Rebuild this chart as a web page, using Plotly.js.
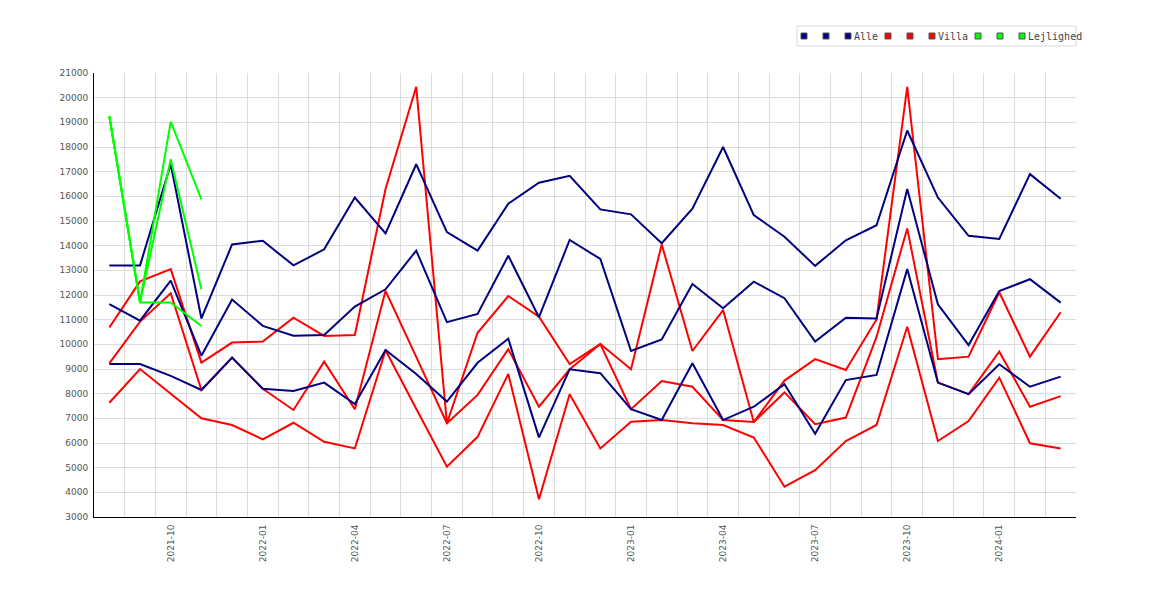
<!DOCTYPE html>
<html>
<head>
<meta charset="utf-8">
<script src="https://cdn.plot.ly/plotly-3.0.1.min.js"></script>
<style>
  body { margin: 0; background: #fff; }
  #chart { width: 1170px; height: 600px; }
</style>
</head>
<body>
<div id="chart"></div>
<script>
// Monthly values, 2021-08 .. 2024-03
const months = [
  '2021-08', '2021-09', '2021-10', '2021-11', '2021-12',
  '2022-01', '2022-02', '2022-03', '2022-04', '2022-05', '2022-06', '2022-07',
  '2022-08', '2022-09', '2022-10', '2022-11', '2022-12',
  '2023-01', '2023-02', '2023-03', '2023-04', '2023-05', '2023-06', '2023-07',
  '2023-08', '2023-09', '2023-10', '2023-11', '2023-12',
  '2024-01', '2024-02', '2024-03'
];

const alleMax = [13200, 13200, 17300, 11050, 14050, 14200, 13200, 13850, 15950, 14500, 17300, 14550,
  13800, 15700, 16550, 16830, 15470, 15270, 14100, 15500, 18000, 15240, 14360, 13180,
  14220, 14830, 18670, 15950, 14400, 14270, 16900, 15900];
const alleMean = [11630, 10960, 12580, 9540, 11820, 10750, 10350, 10380, 11530, 12230, 13800, 10900,
  11230, 13590, 11100, 14230, 13460, 9730, 10200, 12450, 11460, 12540, 11870, 10110,
  11080, 11050, 16300, 11620, 9970, 12160, 12640, 11690];
const alleMin = [9200, 9200, 8720, 8150, 9460, 8200, 8110, 8450, 7580, 9770, 8800, 7680,
  9250, 10230, 6230, 8990, 8830, 7370, 6930, 9230, 6930, 7470, 8380, 6370,
  8550, 8760, 13050, 8450, 7980, 9190, 8280, 8690];

const villaMax = [10680, 12550, 13050, 9260, 10070, 10110, 11080, 10340, 10380, 16300, 20440, 6800,
  10470, 11960, 11120, 9200, 10010, 8990, 14050, 9730, 11390, 6850, 8530, 9400,
  8960, 11010, 20440, 9400, 9500, 12110, 9500, 11300];
const villaMean = [9230, 10920, 12070, 8150, 9460, 8200, 7340, 9300, 7370, 12170, 9490, 6800,
  7950, 9800, 7470, 8990, 10010, 7370, 8510, 8280, 6930, 6850, 8050, 6760,
  7030, 10300, 14700, 8450, 7980, 9700, 7470, 7900];
const villaMin = [7630, 9000, 8000, 7000, 6730, 6150, 6820, 6050, 5780, 9760, 7390, 5040,
  6250, 8800, 3720, 7980, 5780, 6860, 6930, 6800, 6730, 6220, 4230, 4900,
  6080, 6730, 10710, 6080, 6890, 8650, 5990, 5780];

const lejMonths = ['2021-08', '2021-09', '2021-10', '2021-11'];
const lejMax = [19250, 11700, 19030, 15880];
const lejMean = [19250, 11700, 17500, 12230];
const lejMin = [19250, 11700, 11700, 10740];

const legendNames = ['Alle', 'Villa', 'Lejlighed'];
const legendColors = ['#000080', '#ff0000', '#00ff00'];

const tickText = months.map((m) =>
  ['01', '04', '07', '10'].includes(m.slice(5)) ? m : ''
);

function line(x, y, color) {
  return {
    x: x,
    y: y,
    type: 'scatter',
    mode: 'lines',
    line: { color: color, width: 2 },
    hoverinfo: 'skip',
    showlegend: false,
  };
}

// villa first so the navy lines sit on top where they overlap
const data = [
  line(months, villaMax, legendColors[1]),
  line(months, villaMean, legendColors[1]),
  line(months, villaMin, legendColors[1]),
  line(months, alleMax, legendColors[0]),
  line(months, alleMean, legendColors[0]),
  line(months, alleMin, legendColors[0]),
  line(lejMonths, lejMax, legendColors[2]),
  line(lejMonths, lejMean, legendColors[2]),
  line(lejMonths, lejMin, legendColors[2]),
];

// plot area in pixels: 94..1076 x 73..517
const toX = (p) => (p - 94) / 982;
const toY = (p) => (517 - p) / 444;

// hand made legend: three squares per group, name after the third
const shapes = [
  {
    type: 'rect', xref: 'paper', yref: 'paper',
    x0: toX(797), x1: toX(1076), y0: toY(26), y1: toY(46),
    line: { color: '#d8d8d8', width: 1 }, fillcolor: '#fff', layer: 'above',
  },
];
const annotations = [];
let px = 804;
legendNames.forEach((name, g) => {
  for (let k = 0; k < 3; k++) {
    const cx = px + 22 * k;
    shapes.push({
      type: 'rect', xref: 'paper', yref: 'paper',
      x0: toX(cx - 3), x1: toX(cx + 3), y0: toY(39), y1: toY(33),
      line: { color: '#555', width: 1 }, fillcolor: legendColors[g], layer: 'above',
    });
  }
  annotations.push({
    text: name, xref: 'paper', yref: 'paper',
    x: toX(px + 48), y: toY(36.5), xanchor: 'left', yanchor: 'middle',
    showarrow: false,
    font: { family: 'DejaVu Sans Mono', size: 10, color: '#444' },
  });
  px += 50 + 6 * name.length + 10;
});

const tickFont = { family: 'DejaVu Sans', size: 9, color: '#555' };

const layout = {
  width: 1170,
  height: 600,
  margin: { l: 94, r: 94, t: 73, b: 83, pad: 0 },
  paper_bgcolor: '#fff',
  plot_bgcolor: '#fff',
  showlegend: false,
  xaxis: {
    type: 'category',
    range: [-0.5, 31.5],
    tickmode: 'array',
    tickvals: months,
    ticktext: tickText,
    tickangle: -90,
    tickson: 'boundaries',
    ticks: '',
    ticklabelstandoff: 3,
    showgrid: true,
    gridcolor: '#dcdcdc',
    showline: true,
    linecolor: '#000',
    linewidth: 1,
    zeroline: false,
    tickfont: tickFont,
    fixedrange: true,
  },
  yaxis: {
    range: [3000, 21000],
    tick0: 3000,
    dtick: 1000,
    tickformat: 'd',
    ticks: '',
    ticklabelstandoff: 3,
    showgrid: true,
    gridcolor: '#dcdcdc',
    showline: true,
    linecolor: '#000',
    linewidth: 1,
    zeroline: false,
    tickfont: tickFont,
    fixedrange: true,
  },
  shapes: shapes,
  annotations: annotations,
};

Plotly.newPlot('chart', data, layout, { displayModeBar: false, staticPlot: true });
</script>
</body>
</html>
